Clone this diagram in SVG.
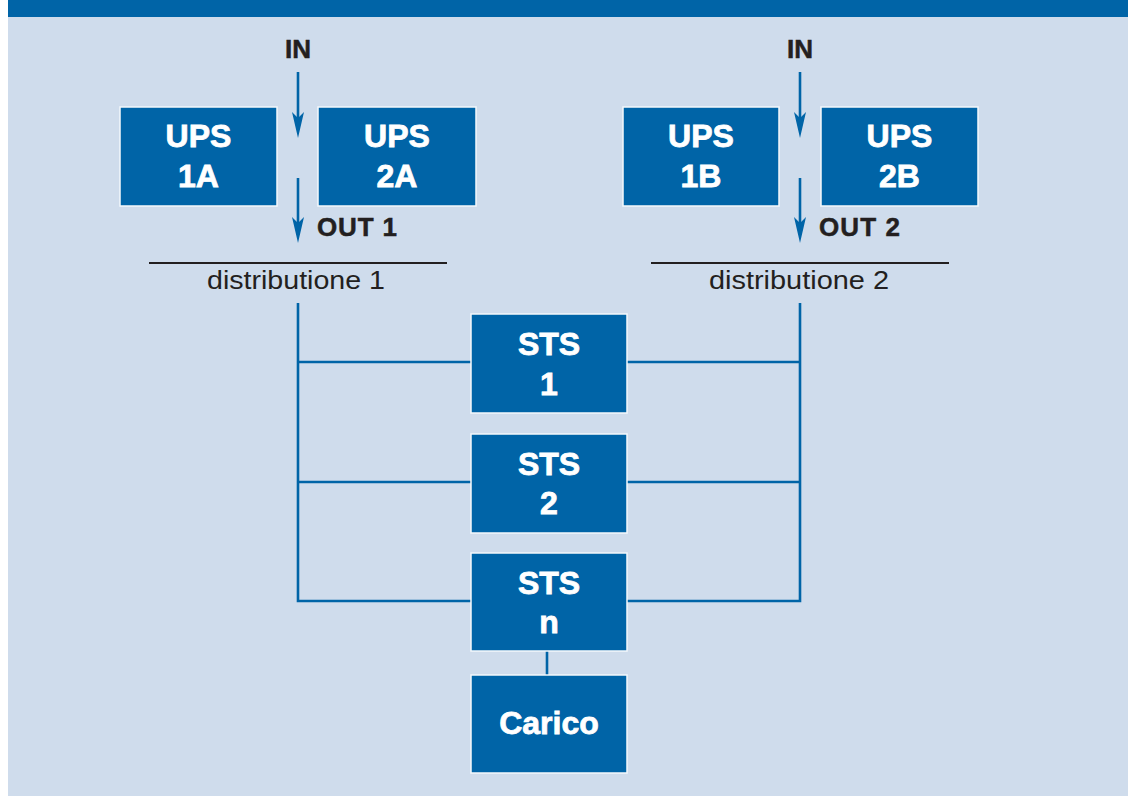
<svg xmlns="http://www.w3.org/2000/svg" width="1129" height="796" viewBox="0 0 1129 796">
<defs>
<style>
.box{fill:#0064a7;stroke:#f4f8fc;stroke-width:1.5}
.bt{fill:#fff;stroke:#fff;stroke-width:0.8;font-family:"Liberation Sans",Arial,sans-serif;font-weight:bold;font-size:32px;text-anchor:middle}
.lbl{fill:#231f20;stroke:#231f20;stroke-width:0.5;font-family:"Liberation Sans",Arial,sans-serif;font-weight:bold;font-size:26px}
.dist{fill:#231f20;font-family:"Liberation Sans",Arial,sans-serif;font-size:26px}
.wire{stroke:#0064a7;stroke-width:2.6;fill:none}
.bar{stroke:#231f20;stroke-width:2}
</style>
</defs>
<rect x="0" y="0" width="1129" height="796" fill="#ffffff"/>
<rect x="8" y="0" width="1120" height="796" fill="#cfdcec"/>
<rect x="8" y="0" width="1120" height="17" fill="#0064a7"/>

<g id="connectors">
<line class="wire" x1="298" y1="72" x2="298" y2="126"/>
<path d="M292,112 L298,118 L304,112 L298,138 Z" fill="#0064a7"/>
<line class="wire" x1="298" y1="178" x2="298" y2="230"/>
<path d="M292,217 L298,223 L304,217 L298,243 Z" fill="#0064a7"/>
<line class="wire" x1="800" y1="72" x2="800" y2="126"/>
<path d="M794,112 L800,118 L806,112 L800,138 Z" fill="#0064a7"/>
<line class="wire" x1="800" y1="178" x2="800" y2="230"/>
<path d="M794,217 L800,223 L806,217 L800,243 Z" fill="#0064a7"/>
<line class="bar" x1="149" y1="263" x2="447" y2="263"/>
<line class="bar" x1="651" y1="263" x2="949" y2="263"/>
<path class="wire" d="M298,303 V601 H471 M298,362 H471 M298,482 H471"/>
<path class="wire" d="M800,303 V601 H627 M800,362 H627 M800,482 H627"/>
<line class="wire" x1="547" y1="651" x2="547" y2="675"/>
</g>

<g id="labels">
<text class="lbl" x="298" y="58" text-anchor="middle">IN</text>
<text class="lbl" x="800" y="58" text-anchor="middle">IN</text>
<text class="lbl" x="317" y="236" textLength="80">OUT 1</text>
<text class="lbl" x="819" y="236" textLength="81">OUT 2</text>
<text class="dist" x="207" y="289" textLength="178" lengthAdjust="spacingAndGlyphs">distributione 1</text>
<text class="dist" x="709" y="289" textLength="180" lengthAdjust="spacingAndGlyphs">distributione 2</text>
</g>

<g id="ups1a"><rect class="box" x="120" y="107" width="157" height="99"/><text class="bt" x="198.5" y="147">UPS</text><text class="bt" x="198.5" y="187">1A</text></g>
<g id="ups2a"><rect class="box" x="318" y="107" width="158" height="99"/><text class="bt" x="397" y="147">UPS</text><text class="bt" x="397" y="187">2A</text></g>
<g id="ups1b"><rect class="box" x="623" y="107" width="156" height="99"/><text class="bt" x="701" y="147">UPS</text><text class="bt" x="701" y="187">1B</text></g>
<g id="ups2b"><rect class="box" x="821" y="107" width="157" height="99"/><text class="bt" x="899.5" y="147">UPS</text><text class="bt" x="899.5" y="187">2B</text></g>

<g id="sts1"><rect class="box" x="471" y="314" width="156" height="99"/><text class="bt" x="549" y="355">STS</text><text class="bt" x="549" y="395">1</text></g>
<g id="sts2"><rect class="box" x="471" y="434" width="156" height="99"/><text class="bt" x="549" y="475">STS</text><text class="bt" x="549" y="514">2</text></g>
<g id="stsn"><rect class="box" x="471" y="553" width="156" height="98"/><text class="bt" x="549" y="594">STS</text><text class="bt" x="549" y="633">n</text></g>
<g id="carico"><rect class="box" x="471" y="675" width="156" height="98"/><text class="bt" x="549" y="734">Carico</text></g>
</svg>
